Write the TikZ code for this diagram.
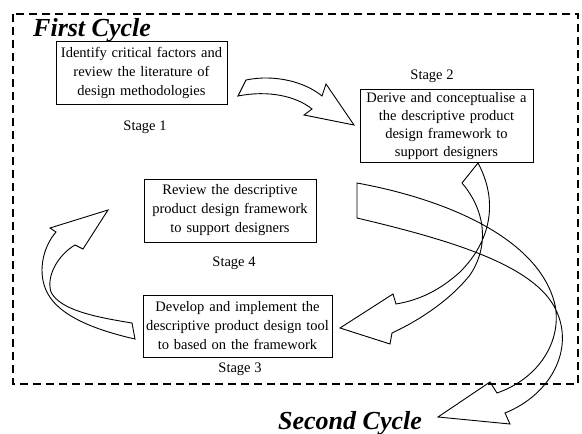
\documentclass[tikz,border=0pt]{standalone}
\usepackage{fontspec}
\setmainfont{Liberation Serif}
\begin{document}
\begin{tikzpicture}[x=1pt,y=-1pt,
  stagebox/.style={draw, line width=1pt, align=center, inner sep=1pt, font=\fontsize{14.5}{19}\selectfont},
  stagelabel/.style={font=\fontsize{14.5}{17}\selectfont},
  cyclelabel/.style={font=\fontsize{26}{30}\selectfont\bfseries\itshape, inner sep=0pt},
  blockarrow/.style={draw, line width=0.9pt, line join=miter},
  frameline/.style={line width=1.6pt, dash pattern=on 8pt off 5pt}]
\useasboundingbox (0,0) rectangle (582,434);
\draw[frameline] (13,14) rectangle (578,384);

\node[cyclelabel, anchor=base west] (c1) at (33,36) {First Cycle};
\node[cyclelabel, anchor=base] (c2) at (350,429) {Second Cycle};

\node[stagebox, minimum width=171pt, minimum height=63pt, text width=167pt] (s1) at (141.5,73) {Identify critical factors and\\review the literature of\\design methodologies};
\node[stagebox, minimum width=173pt, minimum height=73pt, text width=169pt, font=\fontsize{14.5}{18}\selectfont] (s2) at (446.5,126) {Derive and conceptualise a\\the descriptive product\\design framework to\\support designers};
\node[stagebox, minimum width=172pt, minimum height=63pt, text width=168pt] (s4) at (230,210.5) {Review the descriptive\\product design framework\\to support designers};
\node[stagebox, minimum width=189pt, minimum height=62pt, text width=185pt] (s3) at (237.5,326) {Develop and implement the\\descriptive product design tool\\to based on the framework};

\node[stagelabel] (l1) at (145,127) {Stage 1};
\node[stagelabel] (l2) at (432,76) {Stage 2};
\node[stagelabel] (l4) at (234,263) {Stage 4};
\node[stagelabel] (l3) at (240,369) {Stage 3};

% Stage 1 -> Stage 2
\draw[blockarrow] (246,80) .. controls (275,74) and (305,82) .. (322,96) -- (326,84) -- (354,125) -- (304,115) -- (312,109) .. controls (296,96) and (268,90) .. (238,96) -- cycle;
% Stage 2 -> Stage 3
\draw[blockarrow] (478,163) .. controls (498,200) and (492,240) .. (460,272) .. controls (440,290) and (420,300) .. (396,304) -- (393,294) -- (340,328) -- (390,344) -- (392,333) .. controls (420,320) and (450,300) .. (470,275) .. controls (490,245) and (485,210) .. (462,183) -- cycle;
% Stage 3 -> Stage 4
\draw[blockarrow] (132,323) .. controls (95,317) and (60,310) .. (51,292) .. controls (46,276) and (58,255) .. (75,245) -- (83,249) -- (108,210) -- (50,228) -- (56,232) .. controls (42,248) and (37,275) .. (48,294) .. controls (60,316) and (95,330) .. (135,339) -- cycle;
% Second cycle
\draw[blockarrow] (357,183) .. controls (450,200) and (540,240) .. (555,305) .. controls (562,340) and (540,378) .. (497,393) -- (490,382) -- (438,417) -- (510,424) -- (505,413) .. controls (550,395) and (575,350) .. (556,310) .. controls (535,265) and (450,240) .. (357,218) -- cycle;
\end{tikzpicture}
\end{document}
